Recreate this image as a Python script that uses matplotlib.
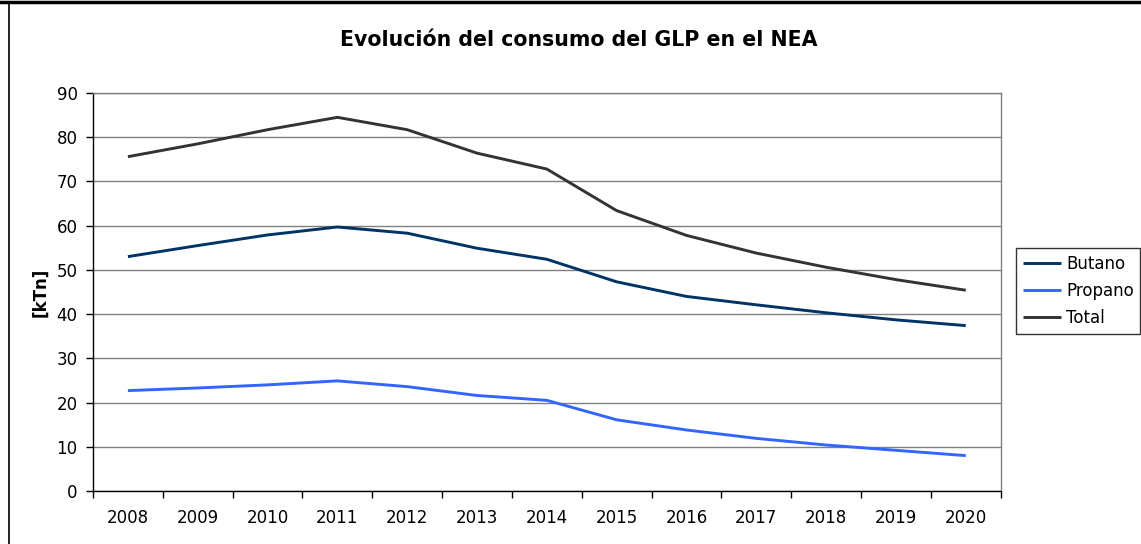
import numpy as np
import matplotlib
matplotlib.use('Agg')
import matplotlib.pyplot as plt
from matplotlib.lines import Line2D

# Data (kTn)
years = ['2008', '2009', '2010', '2011', '2012', '2013', '2014',
         '2015', '2016', '2017', '2018', '2019', '2020']
butano = [53.0, 55.5, 57.9, 59.7, 58.3, 54.9, 52.4, 47.3, 44.0, 42.1, 40.3, 38.7, 37.4]
propano = [22.7, 23.3, 24.0, 24.9, 23.6, 21.6, 20.5, 16.1, 13.8, 11.9, 10.4, 9.2, 8.0]
total = [75.6, 78.5, 81.7, 84.5, 81.7, 76.4, 72.8, 63.4, 57.8, 53.8, 50.6, 47.8, 45.4]

c_butano = '#003366'
c_propano = '#3366FF'
c_total = '#333333'
grid_c = '#808080'

plt.rcParams['font.family'] = 'DejaVu Sans'

fig = plt.figure(figsize=(11.41, 5.44), dpi=100)
W, H = 1141., 544.
ax = fig.add_axes([93/W, 1-491/H, (1000.7-93)/W, (491-93)/H])

x = np.arange(len(years))
ax.plot(x, butano, color=c_butano, lw=2.1, label='Butano', solid_capstyle='butt')
ax.plot(x, propano, color=c_propano, lw=2.1, label='Propano', solid_capstyle='butt')
ax.plot(x, total, color=c_total, lw=2.1, label='Total', solid_capstyle='butt')

ax.set_xlim(-0.5, len(years)-0.5)
ax.set_ylim(0, 90)
ax.set_yticks(np.arange(0, 91, 10))
ax.yaxis.grid(True, color=grid_c, lw=1.0)
ax.set_axisbelow(True)

ax.set_xticks(x)
ax.set_xticklabels(years)
ax.set_xticks(np.arange(-0.5, len(years)), minor=True)
ax.tick_params(axis='x', which='major', length=0, pad=13, labelsize=12)
ax.tick_params(axis='x', which='minor', length=5, width=1, color='black')
ax.tick_params(axis='y', length=5, width=1, pad=6, labelsize=12)

for s in ['left', 'bottom']:
    ax.spines[s].set_color('black')
    ax.spines[s].set_linewidth(1.0)
for s in ['top', 'right']:
    ax.spines[s].set_color(grid_c)
    ax.spines[s].set_linewidth(1.0)

ax.set_ylabel('[kTn]', fontsize=12, fontweight='bold', labelpad=5)

fig.text(579/W, 1-40/H, 'Evolución del consumo del GLP en el NEA',
         ha='center', va='center', fontsize=14.8, fontweight='bold')

leg = fig.legend(loc='center left', bbox_to_anchor=(1016/W, 1-291/H),
                 frameon=True, fancybox=False, shadow=False, fontsize=12,
                 handlelength=2.3, handletextpad=0.3, labelspacing=0.55,
                 borderpad=0.4, borderaxespad=0)
leg.get_frame().set_edgecolor('black')
leg.get_frame().set_linewidth(1.0)

# outer chart frame (top and left edges visible)
fig.add_artist(Line2D([0, 1], [1-1.5/H, 1-1.5/H], transform=fig.transFigure,
                      color='black', lw=2.5))
fig.add_artist(Line2D([9/W, 9/W], [0, 1-3/H], transform=fig.transFigure,
                      color='black', lw=1.2))

fig.savefig('out.png', dpi=100)
